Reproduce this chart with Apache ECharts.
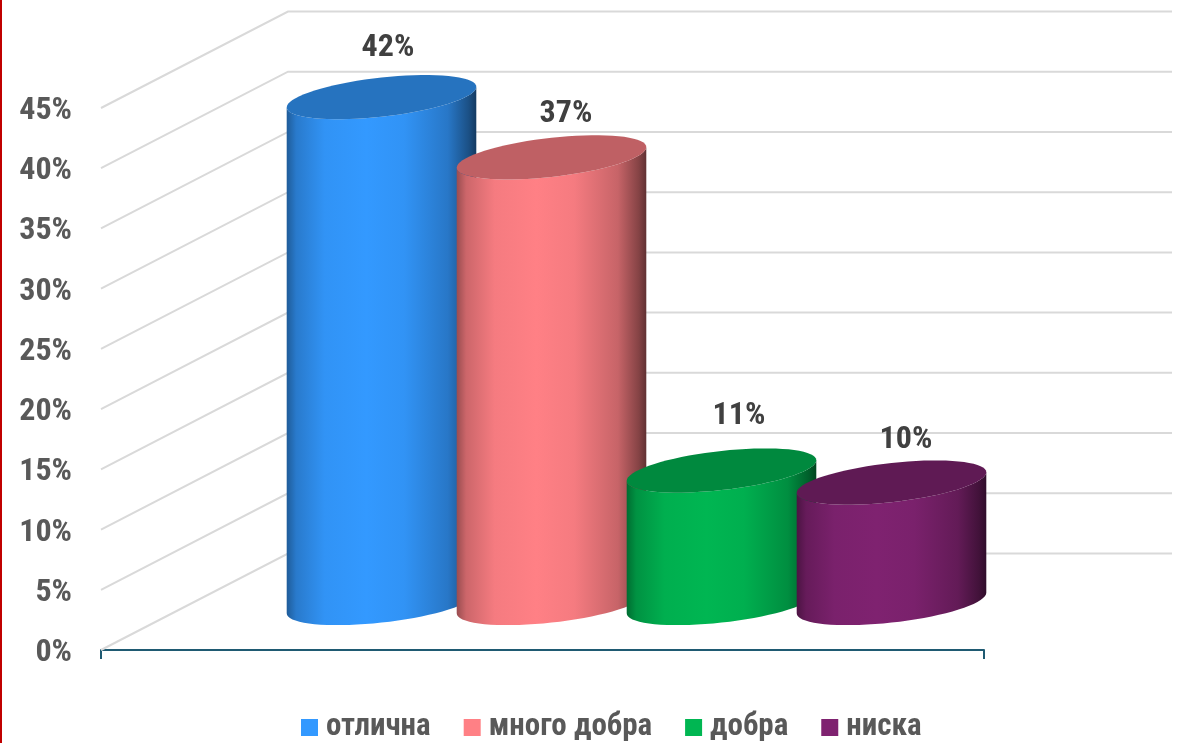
<!DOCTYPE html>
<html>
<head>
<meta charset="utf-8">
<style>html,body{margin:0;padding:0;background:#fff}#c{width:1184px;height:743px}</style>
<script src="https://cdn.jsdelivr.net/npm/echarts@6/dist/echarts.min.js"></script>
</head>
<body>
<div id="c"></div>
<script>
var categories = ['отлична', 'много добра', 'добра', 'ниска'];
var values = [42, 37, 11, 10];
var yTicks = [0, 5, 10, 15, 20, 25, 30, 35, 40, 45];
var colors = ['#3399FF', '#FF8085', '#00B652', '#7F2270'];

// 3D look constants (pixels)
var DEPTH_X = 187, DEPTH_Y = -96.5, WALL_RIGHT = 1172;
var CYL_FIRST_DX = 280.5, CYL_PITCH = 170, CYL_BASE_DY = -47, RX = 94.8, RY = 19.6, TILT = 10.3;
var labelNudge = [[6.5, -49], [14.5, -43], [17.5, -55], [14.5, -43]];
var FONT = '"Roboto Condensed","Open Sans Condensed","Liberation Sans",sans-serif';

function shade(hex, f) {
  var n = parseInt(hex.slice(1), 16);
  var c = [(n >> 16) & 255, (n >> 8) & 255, n & 255].map(function (v) { return Math.round(v * f); });
  return 'rgb(' + c.join(',') + ')';
}
function ell(cx, cy, t) {
  return [cx + RX * Math.cos(t), cy - RY * Math.sin(t) - TILT * Math.cos(t)];
}
function cylinderItem(i) {
  return function (params, api) {
    var v = api.value(1);
    var origin = api.coord([0, 0]);
    var unit = origin[1] - api.coord([0, 1])[1];
    var left = origin[0] - api.size([1, 0])[0] / 2;
    var cx = left + CYL_FIRST_DX + CYL_PITCH * i;
    var by = origin[1] + CYL_BASE_DY, ty = by - unit * v;
    var N = 72, body = [], cap = [], k;
    body.push(ell(cx, ty, Math.PI));
    for (k = 0; k <= N / 2; k++) body.push(ell(cx, by, Math.PI + k * 2 * Math.PI / N));
    body.push(ell(cx, ty, 0));
    for (k = 0; k < N / 2; k++) body.push(ell(cx, ty, -k * 2 * Math.PI / N));
    for (k = 0; k < N; k++) cap.push(ell(cx, ty, k * 2 * Math.PI / N));
    var c = colors[i];
    var stops = [[0, .6], [.05, .8], [.2, .96], [.42, 1], [.62, .96], [.85, .78], [.96, .52], [1, .38]];
    return {
      type: 'group',
      children: [
        { type: 'polygon', shape: { points: body }, style: {
            fill: { type: 'linear', x: 0, y: 0, x2: 1, y2: 0,
              colorStops: stops.map(function (s) { return { offset: s[0], color: shade(c, s[1]) }; }) } } },
        { type: 'polygon', shape: { points: cap }, style: { fill: shade(c, .75) } },
        { type: 'text', style: {
            text: v + '%', x: cx + labelNudge[i][0], y: ty + labelNudge[i][1],
            align: 'center', verticalAlign: 'middle',
            font: 'bold 32px ' + FONT, fill: '#404040' } }
      ]
    };
  };
}
function wallItem(params, api) {
  var p = api.coord([0, api.value(0)]);
  var left = p[0] - api.size([1, 0])[0] / 2;
  return { type: 'polyline', shape: { points: [
      [left, p[1]], [left + DEPTH_X, p[1] + DEPTH_Y], [WALL_RIGHT, p[1] + DEPTH_Y]
    ] }, style: { stroke: '#d9d9d9', lineWidth: 2, fill: null } };
}

var series = [{
  type: 'custom', name: 'wall', silent: true, z: 1, clip: false,
  renderItem: wallItem,
  encode: { x: 1, y: 0 },
  data: yTicks.map(function (t) { return [t, 0]; })
}];
categories.forEach(function (name, i) {
  series.push({
    type: 'custom', name: name, z: 2 + i, clip: false,
    itemStyle: { color: colors[i] },
    renderItem: cylinderItem(i),
    encode: { x: 0, y: 1 },
    data: [[0, values[i]]]
  });
});

var chart = echarts.init(document.getElementById('c'), null, { renderer: 'canvas' });
chart.setOption({
  animation: false,
  backgroundColor: '#fff',
  grid: { left: 101, right: 200, top: 108, bottom: 93, containLabel: false },
  xAxis: {
    type: 'category', data: [''],
    axisLine: { lineStyle: { color: '#1F5A72', width: 2 } },
    axisTick: { show: true, length: 9, lineStyle: { color: '#1F5A72', width: 2 } },
    axisLabel: { show: false }
  },
  yAxis: {
    type: 'value', min: 0, max: 45, interval: 5,
    axisLine: { show: false }, axisTick: { show: false }, splitLine: { show: false },
    axisLabel: {
      formatter: '{t|{value}%}', margin: 29,
      rich: { t: { color: '#595959', fontFamily: FONT, fontWeight: 'bold', fontSize: 32, padding: [6, 0, 0, 0] } }
    }
  },
  legend: {
    data: categories, left: 296, top: 707, icon: 'rect',
    itemWidth: 17, itemHeight: 17, itemGap: 33,
    textStyle: { color: '#595959', fontFamily: FONT, fontWeight: 'bold', fontSize: 31, padding: [6, 0, 0, 3] }
  },
  graphic: [{ type: 'rect', left: 0, top: 0, shape: { width: 2, height: 743 }, style: { fill: '#C00000' }, silent: true }],
  series: series
});
</script>
</body>
</html>
